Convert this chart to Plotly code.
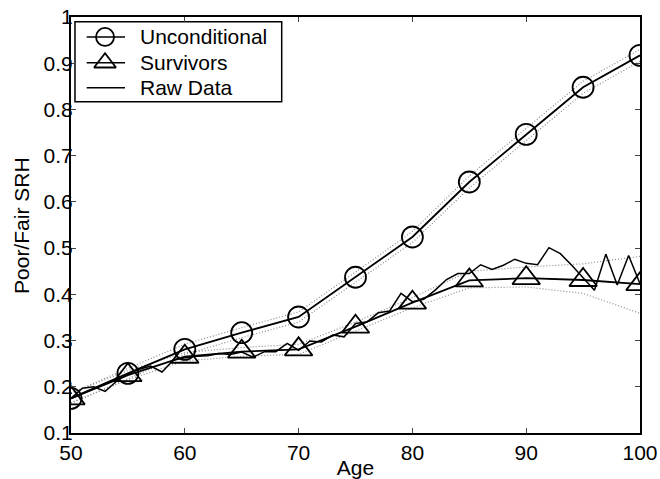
import plotly.graph_objects as go

ages5 = [50, 55, 60, 65, 70, 75, 80, 85, 90, 95, 100]
unconditional = [0.175, 0.229, 0.281, 0.317, 0.351, 0.437, 0.524, 0.643, 0.746, 0.848, 0.917]
unc_upper = [0.186, 0.240, 0.292, 0.328, 0.362, 0.448, 0.536, 0.656, 0.759, 0.861, 0.930]
unc_lower = [0.165, 0.218, 0.270, 0.306, 0.340, 0.426, 0.512, 0.630, 0.733, 0.835, 0.904]

survivors = [0.175, 0.225, 0.265, 0.276, 0.281, 0.330, 0.382, 0.430, 0.435, 0.431, 0.422]
surv_upper = [0.186, 0.235, 0.274, 0.285, 0.292, 0.340, 0.393, 0.450, 0.459, 0.466, 0.482]
surv_lower = [0.165, 0.215, 0.256, 0.266, 0.270, 0.320, 0.371, 0.414, 0.416, 0.402, 0.359]

ages1 = list(range(50, 101))
raw_data = [0.175, 0.197, 0.200, 0.190, 0.212, 0.228, 0.238, 0.245, 0.232, 0.258,
            0.263, 0.266, 0.267, 0.272, 0.270, 0.275, 0.264, 0.276, 0.276, 0.294,
            0.279, 0.299, 0.297, 0.312, 0.308, 0.337, 0.340, 0.360, 0.364, 0.402,
            0.384, 0.389, 0.409, 0.432, 0.445, 0.445, 0.464, 0.454, 0.463, 0.476,
            0.467, 0.464, 0.501, 0.488, 0.463, 0.437, 0.409, 0.487, 0.420, 0.484,
            0.423]

series_names = ["Unconditional", "Survivors", "Raw Data"]

x_ticks = [50, 60, 70, 80, 90, 100]
y_ticks = [0.1, 0.2, 0.3, 0.4, 0.5, 0.6, 0.7, 0.8, 0.9, 1.0]
y_tick_text = ["0.1", "0.2", "0.3", "0.4", "0.5", "0.6", "0.7", "0.8", "0.9", "1"]

FONT = "Liberation Sans, Arial, Helvetica, sans-serif"
FS = 21
LW = 1.8
dot_style = dict(color="#8a8a8a", width=1.2, dash="1px,2px")
circle_m = dict(symbol="circle-open", size=21, color="black", line=dict(width=LW))
tri_m = dict(symbol="triangle-up-open", size=24, color="black", line=dict(width=LW))

fig = go.Figure()

for band in (unc_upper, unc_lower, surv_upper, surv_lower):
    fig.add_trace(go.Scatter(x=ages5, y=band, mode="lines", line=dot_style,
                             showlegend=False, hoverinfo="skip"))

fig.add_trace(go.Scatter(x=ages5, y=unconditional, mode="lines+markers",
                         name=series_names[0], line=dict(color="black", width=LW),
                         marker=circle_m, showlegend=False))
fig.add_trace(go.Scatter(x=ages5, y=survivors, mode="lines+markers",
                         name=series_names[1], line=dict(color="black", width=LW),
                         marker=tri_m, showlegend=False))
fig.add_trace(go.Scatter(x=ages1, y=raw_data, mode="lines",
                         name=series_names[2], line=dict(color="black", width=1.5),
                         showlegend=False))

# ---- MATLAB-style legend box in a normalized overlay frame ([0,1] over the plot area) ----
LX0, LX1 = 0.007, 0.3703
LY0, LY1 = 0.7964, 0.9887
SX0, SX1, SXM = 0.0276, 0.0949, 0.0598
TX = 0.1183
ROWS = [0.952, 0.890, 0.830]
legend_markers = [
    dict(symbol="circle-open", size=18, color="black", line=dict(width=LW)),
    dict(symbol="triangle-up-open", size=19, color="black", line=dict(width=LW)),
    None,
]

fig.add_shape(type="rect", xref="paper", yref="paper", x0=LX0, x1=LX1, y0=LY0, y1=LY1,
              fillcolor="white", line=dict(color="black", width=1.5), layer="below")

for name, row, mk in zip(series_names, ROWS, legend_markers):
    fig.add_trace(go.Scatter(x=[SX0, SX1], y=[row, row], xaxis="x2", yaxis="y2",
                             mode="lines", line=dict(color="black", width=1.4),
                             showlegend=False, hoverinfo="skip"))
    if mk is not None:
        fig.add_trace(go.Scatter(x=[SXM], y=[row], xaxis="x2", yaxis="y2",
                                 mode="markers", marker=mk,
                                 showlegend=False, hoverinfo="skip"))
    fig.add_annotation(x=TX, y=row, xref="x2", yref="y2", text=name, showarrow=False,
                       xanchor="left", yanchor="middle", font=dict(size=FS, family=FONT))

# y-axis title placed like the MATLAB original
fig.add_annotation(x=-0.0879, y=0.5, xref="paper", yref="paper", text="Poor/Fair SRH",
                   textangle=-90, showarrow=False, xanchor="center", yanchor="middle",
                   font=dict(size=FS, family=FONT))

fig.update_layout(
    width=660, height=479,
    margin=dict(l=71, r=20, t=17, b=46, autoexpand=False),
    paper_bgcolor="white", plot_bgcolor="white",
    font=dict(family=FONT, size=FS, color="black"),
    showlegend=False,
    xaxis=dict(
        range=[50, 100], tickvals=x_ticks, ticks="inside", ticklen=5, tickwidth=1,
        showline=True, linecolor="black", linewidth=2, mirror="ticks",
        showgrid=False, zeroline=False, automargin=False, ticklabeloverflow="allow",
        title=dict(text="Age", font=dict(size=FS)), tickfont=dict(size=FS),
    ),
    yaxis=dict(
        range=[0.1, 1.0], tickvals=y_ticks, ticktext=y_tick_text, ticks="inside",
        ticklen=5, tickwidth=1, ticklabelstandoff=-8,
        showline=True, linecolor="black", linewidth=2, mirror="ticks",
        showgrid=False, zeroline=False, automargin=False, ticklabeloverflow="allow",
        tickfont=dict(size=FS),
    ),
    xaxis2=dict(overlaying="x", range=[0, 1], visible=False, fixedrange=True),
    yaxis2=dict(overlaying="y", range=[0, 1], visible=False, fixedrange=True),
)

fig.write_html(
    "out.html",
    config={"displayModeBar": False},
    post_script="document.body.style.margin='0';document.body.style.overflow='hidden';",
)
